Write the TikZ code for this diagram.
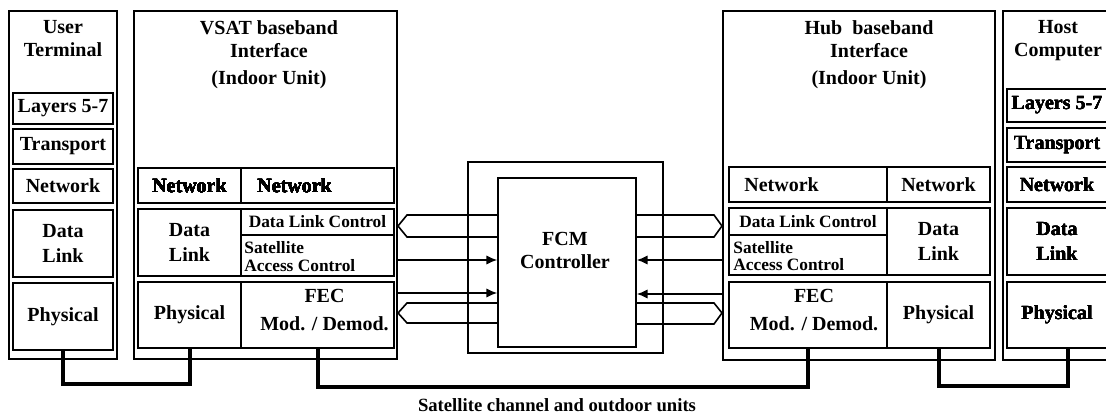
\documentclass[tikz,border=0pt]{standalone}
\usepackage{fontspec}
\setmainfont{Liberation Serif}
\usetikzlibrary{fit,calc,arrows.meta}
\newcommand{\mainsize}{\fontsize{15}{17.5}\selectfont}
\newcommand{\smallsize}{\fontsize{13}{13}\selectfont}
\newcommand{\layer}[6]{%
    \node[layer, fit={(#2,#3) (#4,#5)}] (#1) {};
    \node[align=center] (#1-text) at (#1.center) {#6};
}
\tikzset{
    unit/.style={draw, line width=1.5pt, inner sep=0pt},
    layer/.style={draw, line width=1.3pt, inner sep=0pt},
    title/.style={align=center, anchor=north, inner sep=0pt},
    link/.style={line width=1.2pt},
    bus/.style={line width=3pt},
    tip/.style={-{Latex[length=8pt,width=7pt]}},
}

\begin{document}
\begin{tikzpicture}[x=0.75pt,y=-0.75pt,font=\bfseries\mainsize]
    \useasboundingbox (0,0) rectangle (1106,416);
    % outer units
    \node[unit, fit={(9,11) (117,359)}] (ut) {};
    \node[unit, fit={(134,11) (397,359)}] (vsat) {};
    \node[unit, fit={(468,162) (663,353)}] (frame) {};
    \node[unit, fit={(723,11) (995,360)}] (hub) {};
    \node[unit, fit={(1003,11) (1111,360)}] (host) {};
    \node[title] (uttitle) at (63,20) {User\\Terminal};
    \node[title] (vsattitle) at (269,20) {VSAT baseband\\Interface\\[3pt](Indoor Unit)};
    \node[title] (hubtitle) at (869,20) {Hub\ \ baseband\\Interface\\[3pt](Indoor Unit)};
    \node[title] (hosttitle) at (1058,20) {Host\\Computer};
    % end system stacks
    \foreach \n/\ya/\yb/\t in {l57/93/124/Layers 5-7, tr/129/164/Transport,
        nw/169/203/Network, dl/210/277/{Data\\[1pt]Link}, ph/283/350/Physical}
        \layer{ut\n}{13}{\ya}{113}{\yb}{\t}
    \foreach \n/\ya/\yb/\t in {l57/89/122/Layers 5-7, tr/128/162/Transport,
        nw/167/202/Network, dl/208/275/{Data\\[1pt]Link}, ph/282/348/Physical}
        \layer{hs\n}{1007}{\ya}{1107}{\yb}{\t}
    % VSAT cells
    \layer{vnwa}{138}{168}{241}{203}{Network}
    \layer{vnwb}{241}{168}{394}{203}{}
    \node[anchor=west, inner sep=0pt] (vnwtext) at ($(vnwb.west)+(17,0)$) {Network};
    \layer{vdl}{138}{209}{241}{276}{Data\\[1pt]Link}
    \layer{vdlc}{241}{209}{394}{235}{\smallsize Data Link Control}
    \layer{vsac}{241}{235}{394}{276}{}
    \node[anchor=west, align=left, inner sep=0pt, font=\bfseries\smallsize] (vsactext)
        at ($(vsac.west)+(4,1)$) {Satellite\\Access Control};
    \layer{vph}{138}{282}{241}{348}{Physical}
    \layer{vfec}{241}{282}{394}{348}{}
    \node[align=center] (vfectext) at ($(vfec.center)+(7,-5)$) {FEC\\[4pt]Mod. / Demod.};
    % hub cells
    \layer{hnwa}{729}{167}{887}{202}{}
    \node[anchor=west, inner sep=0pt] (hnwtext) at ($(hnwa.west)+(16,0)$) {Network};
    \layer{hnwb}{887}{167}{990}{202}{Network}
    \layer{hdlc}{729}{208}{887}{235}{\smallsize Data Link Control}
    \layer{hsac}{729}{235}{887}{275}{}
    \node[anchor=west, align=left, inner sep=0pt, font=\bfseries\smallsize] (hsactext)
        at ($(hsac.west)+(5,1)$) {Satellite\\Access Control};
    \layer{hdl}{887}{208}{990}{275}{Data\\[1pt]Link}
    \layer{hfec}{729}{282}{887}{348}{}
    \node[align=center] (hfectext) at ($(hfec.center)+(6,-5)$) {FEC\\[4pt]Mod. / Demod.};
    \layer{hph}{887}{282}{990}{348}{Physical}
    % FCM controller
    \layer{fcm}{498}{178}{636}{347}{}
    \node[align=center] (fcmtext) at ($(fcm.center)+(-2,-12)$) {FCM\\Controller};
    % left links
    \draw[link] (fcm.west |- 0,215) -- (407,215) -- (vsat.east |- 0,226)
        -- (407,237) -- (fcm.west |- 0,237);
    \draw[link, tip] (vsat.east |- 0,260) -- (fcm.west |- 0,260);
    \draw[link, tip] (vsat.east |- 0,293) -- (fcm.west |- 0,293);
    \draw[link] (fcm.west |- 0,303) -- (407,303) -- (vsat.east |- 0,313)
        -- (407,323) -- (fcm.west |- 0,323);
    % right links
    \draw[link] (fcm.east |- 0,215) -- (714,215) -- (hub.west |- 0,226)
        -- (714,237) -- (fcm.east |- 0,237);
    \draw[link, tip] (hub.west |- 0,260) -- (fcm.east |- 0,260);
    \draw[link, tip] (hub.west |- 0,294) -- (fcm.east |- 0,294);
    \draw[link] (fcm.east |- 0,303) -- (714,303) -- (hub.west |- 0,313)
        -- (714,324) -- (fcm.east |- 0,324);
    % physical links
    \draw[bus] (utph.south) -- (utph.south |- 0,384) -| (vph.south);
    \draw[bus] (vfec.south) -- (vfec.south |- 0,387) -| (hfec.south);
    \draw[bus] (hph.south) -- (hph.south |- 0,386) -| ([xshift=8pt]hsph.south);
    \node[font=\bfseries\fontsize{14}{16}\selectfont] (satlabel) at (557,405)
        {Satellite channel and outdoor units};
\end{tikzpicture}
\end{document}
